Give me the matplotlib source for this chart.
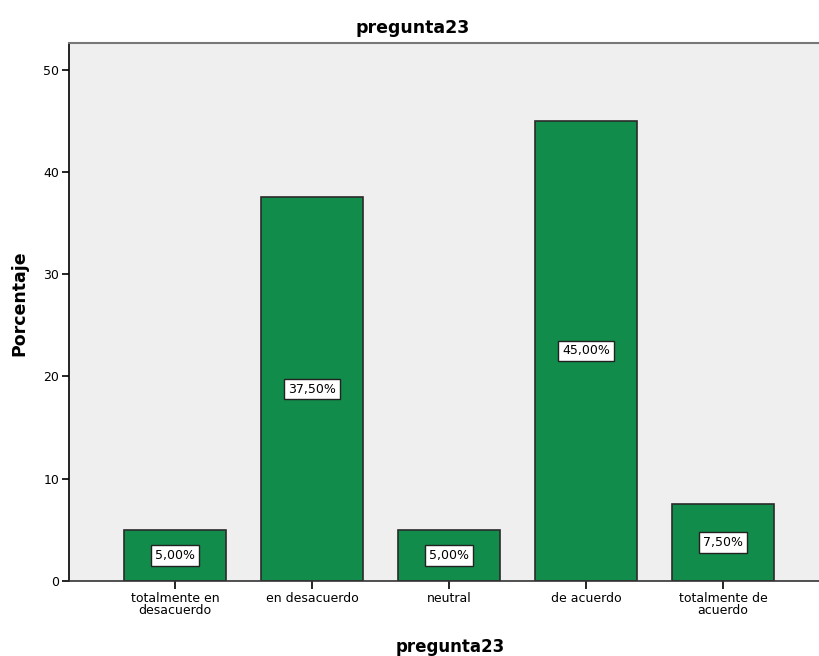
import matplotlib
matplotlib.use("Agg")
import matplotlib.pyplot as plt

categories = ["totalmente en\ndesacuerdo", "en desacuerdo", "neutral",
              "de acuerdo", "totalmente de\nacuerdo"]
percentages = [5.0, 37.5, 5.0, 45.0, 7.5]
value_labels = ["5,00%", "37,50%", "5,00%", "45,00%", "7,50%"]
y_ticks = [0, 10, 20, 30, 40, 50]

plt.rcParams["font.family"] = ["DejaVu Sans"]

fig = plt.figure(figsize=(8.19, 6.56), dpi=100)
ax = fig.add_axes([69 / 819, 1 - 581 / 656, 1 - 69 / 819, (581 - 43) / 656])
ax.set_facecolor("#efefef")

x = list(range(len(categories)))
ax.bar(x, percentages, width=0.75, color="#118c4a", edgecolor="#2b2b2b", linewidth=1.2)

for xi, v, lab in zip(x, percentages, value_labels):
    ax.text(xi, v / 2, lab, ha="center", va="center", fontsize=9,
            bbox=dict(boxstyle="square,pad=0.3", facecolor="white", edgecolor="#222222", linewidth=1))

ax.set_xlim(-0.774, 4.70)
ax.set_ylim(0, 52.6)
ax.set_yticks(y_ticks)
ax.set_xticks(x)
ax.set_xticklabels(categories, fontsize=9, linespacing=0.9)
ax.tick_params(axis="y", labelsize=9, length=5, width=1.2, direction="out", pad=2)
ax.tick_params(axis="x", length=6, width=1.2, direction="out", pad=2)

ax.spines["right"].set_visible(False)
ax.spines["top"].set_color("#777777")
ax.spines["top"].set_linewidth(1.5)
ax.spines["left"].set_color("black")
ax.spines["left"].set_linewidth(1.2)
ax.spines["bottom"].set_color("#333333")
ax.spines["bottom"].set_linewidth(1.2)

fig.text(413 / 819, 1 - 28 / 656, "pregunta23", ha="center", va="center",
         fontsize=12.5, fontweight="bold")
fig.text(450 / 819, 1 - 647 / 656, "pregunta23", ha="center", va="center",
         fontsize=12, fontweight="bold")
fig.text(19 / 819, 1 - 303 / 656, "Porcentaje", ha="center", va="center",
         rotation=90, fontsize=12.5, fontweight="bold")

fig.savefig("out.png", dpi=100)
